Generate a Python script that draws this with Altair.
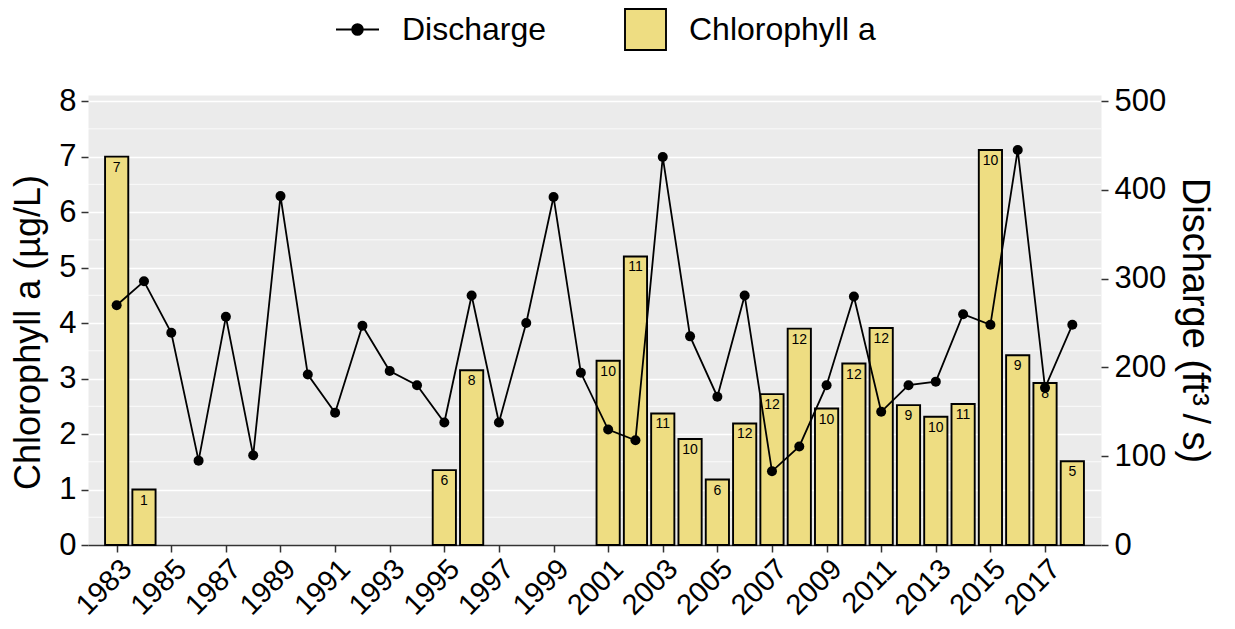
import altair as alt
import pandas as pd

# ---- data ----
chl_years = [1983, 1984, 1995, 1996, 2001, 2002, 2003, 2004, 2005, 2006, 2007,
             2008, 2009, 2010, 2011, 2012, 2013, 2014, 2015, 2016, 2017, 2018]
chl_values = [7.0, 1.0, 1.35, 3.15, 3.32, 5.2, 2.37, 1.91, 1.18, 2.19, 2.72,
              3.9, 2.46, 3.27, 3.91, 2.52, 2.31, 2.54, 7.12, 3.42, 2.92, 1.51]
chl_counts = [7, 1, 6, 8, 10, 11, 11, 10, 6, 12, 12,
              12, 10, 12, 12, 9, 10, 11, 10, 9, 8, 5]

dis_years = list(range(1983, 2019))
dis_values = [270, 297, 239, 95, 257, 101, 393, 192, 149, 247, 196, 180,
              138, 281, 138, 250, 392, 194, 130, 118, 437, 235, 167, 281,
              83, 111, 180, 280, 150, 180, 184, 260, 248, 445, 177, 248]

x_ticks = list(range(1983, 2018, 2))
left_ticks = [0, 1, 2, 3, 4, 5, 6, 7, 8]
minor_grid = [0.5, 1.5, 2.5, 3.5, 4.5, 5.5, 6.5, 7.5]
right_ticks = [0, 100, 200, 300, 400, 500]

chl_df = pd.DataFrame({"year": chl_years, "chl": chl_values, "n": chl_counts})
dis_df = pd.DataFrame({"year": dis_years, "q": dis_values})
minor_df = pd.DataFrame({"g": minor_grid})

FONT = "Liberation Sans"
X_DOMAIN = [1981.95, 2019.05]
Y_TOP = 8.11
Q_TOP = Y_TOP * 62.5
LEG_PATH = "M-1,0L1,0M-0.25,0A0.25,0.25,0,1,1,0.25,0A0.25,0.25,0,1,1,-0.25,0Z"

xscale = alt.Scale(domain=X_DOMAIN, nice=False, zero=False)
yscale = alt.Scale(domain=[0, Y_TOP], nice=False)
qscale = alt.Scale(domain=[0, Q_TOP], nice=False)

x_axis = alt.Axis(values=x_ticks, format="d", labelAngle=-45, labelAlign="right",
                  labelBaseline="top", labelFontSize=29, labelColor="black",
                  labelFont=FONT, grid=False, tickColor="#333333", tickSize=7,
                  tickWidth=1.5, domainColor="#333333", domainWidth=1.5,
                  labelPadding=2, title=None, labelOverlap=False, labelFlush=False)

left_axis = alt.Axis(values=left_ticks, format="d",
                     title="Chlorophyll a (µg/L)", titleFontSize=36, titleFont=FONT,
                     titleFontWeight="normal", titleColor="black",
                     titleX=-60, titleY=237, titleAngle=270, titleBaseline="middle",
                     titleAlign="center",
                     labelFontSize=31, labelColor="black", labelFont=FONT,
                     labelPadding=5, tickColor="#333333",
                     tickSize=7, tickWidth=1.5, domain=False,
                     grid=True, gridColor="white", gridWidth=1.6)

right_axis = alt.Axis(orient="right", values=right_ticks, format="d",
                      title="Discharge (ft³\u2009/\u2009s)", titleFontSize=38, titleFont=FONT,
                      titleFontWeight="normal", titleColor="black", titlePadding=9,
                      labelFontSize=31, labelColor="black", labelFont=FONT,
                      labelPadding=6, tickColor="#333333", tickSize=7, tickWidth=1.5,
                      domain=False, grid=False)

minor = alt.Chart(minor_df).mark_rule(color="white", strokeWidth=0.8).encode(
    y=alt.Y("g:Q", scale=yscale, axis=left_axis),
)

bars = alt.Chart(chl_df).transform_calculate(
    x0="datum.year - 0.425", x1="datum.year + 0.425", base="0",
    series="'Chlorophyll a'"
).mark_bar(stroke="black", strokeWidth=1.9).encode(
    x=alt.X("x0:Q", scale=xscale, axis=x_axis),
    x2="x1:Q",
    y=alt.Y("chl:Q", scale=yscale, axis=left_axis),
    y2="base:Q",
    fill=alt.Fill("series:N",
                  scale=alt.Scale(domain=["Chlorophyll a"], range=["#EEDD82"]),
                  legend=alt.Legend(orient="none", legendX=536, legendY=-87,
                                    title=None, symbolType="square", symbolSize=1681,
                                    symbolStrokeColor="black", symbolStrokeWidth=1.9,
                                    labelFontSize=32, labelFont=FONT, labelColor="black",
                                    labelOffset=22, labelLimit=400, padding=0)),
)

text = alt.Chart(chl_df).mark_text(baseline="middle", dy=11, fontSize=14,
                                   font=FONT, color="black").encode(
    x=alt.X("year:Q", scale=xscale, axis=x_axis),
    y=alt.Y("chl:Q", scale=yscale, axis=left_axis),
    text="n:Q",
)

line = alt.Chart(dis_df).mark_line(color="black", strokeWidth=1.8).encode(
    x=alt.X("year:Q", scale=xscale, axis=x_axis),
    y=alt.Y("q:Q", scale=qscale, axis=right_axis),
)

points = alt.Chart(dis_df).transform_calculate(series2="'Discharge'").mark_point(
    filled=True, size=100, opacity=1).encode(
    x=alt.X("year:Q", scale=xscale, axis=x_axis),
    y=alt.Y("q:Q", scale=qscale, axis=right_axis),
    color=alt.Color("series2:N",
                    scale=alt.Scale(domain=["Discharge"], range=["black"]),
                    legend=alt.Legend(orient="none", legendX=247, legendY=-88,
                                      title=None, symbolType=LEG_PATH, symbolSize=1849,
                                      symbolFillColor="black", symbolStrokeColor="black",
                                      symbolStrokeWidth=1.8,
                                      labelFontSize=32, labelFont=FONT, labelColor="black",
                                      labelOffset=22, labelLimit=400, padding=0)),
)

left = alt.layer(minor, bars, text)
right = alt.layer(line, points)

chart = alt.layer(left, right).resolve_scale(y="independent").properties(
    width=1013, height=450,
    autosize=alt.AutoSizeParams(type="none"),
    padding={"left": 80, "top": 87, "right": 126, "bottom": 76},
).configure_view(fill="#EBEBEB", stroke="transparent")

chart.save("out.html", embed_options={"renderer": "svg", "actions": False})
